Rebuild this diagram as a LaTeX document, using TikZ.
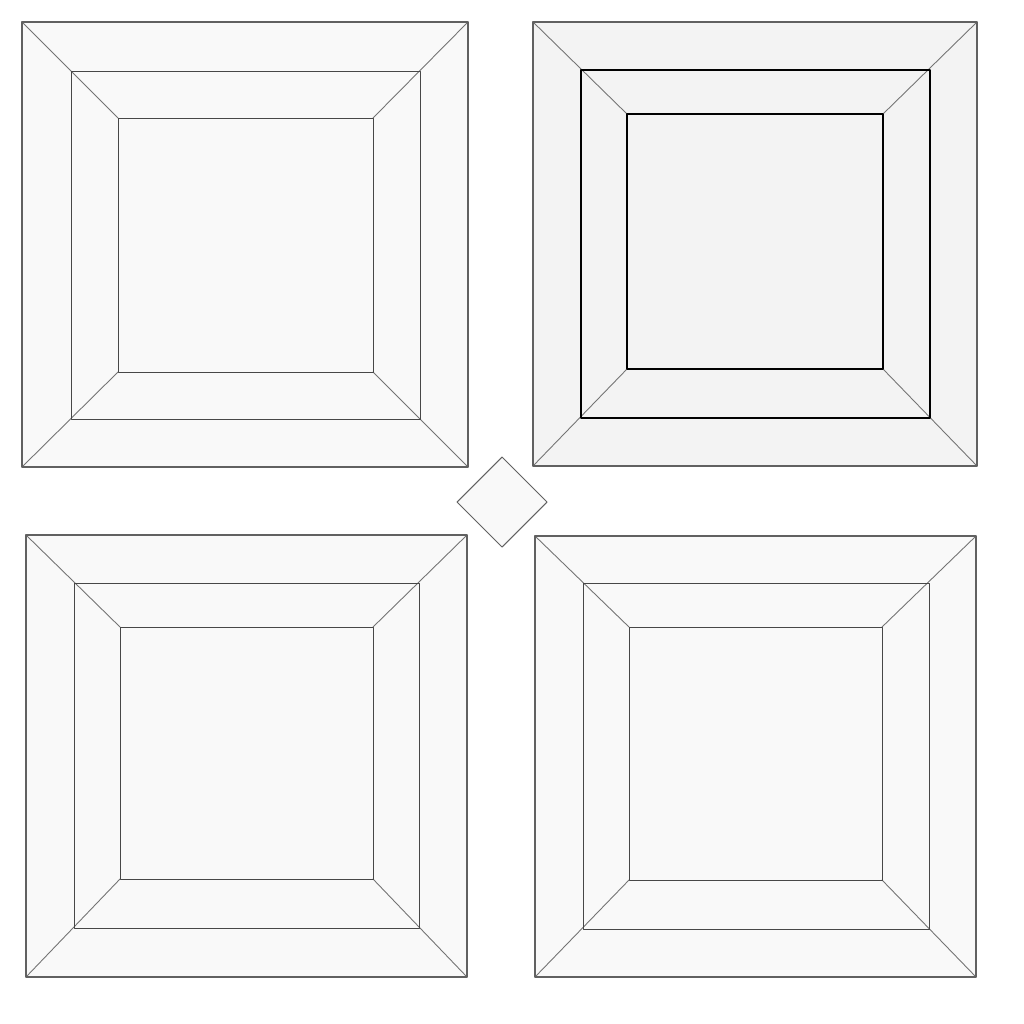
\documentclass[tikz,border=0pt]{standalone}
\usetikzlibrary{calc}
\definecolor{paper}{HTML}{F9F9F9}
\definecolor{paperdark}{HTML}{F3F3F3}
\tikzset{
  outerline/.style={draw=black!62, line width=0.6pt},
  midline/.style={draw=black!72, line width=0.55pt},
  diagline/.style={draw=black!55, line width=0.5pt},
  boldline/.style={draw=black, line width=0.75pt}
}
\begin{document}
\begin{tikzpicture}[x=0.02cm, y=-0.02cm, line join=round, line cap=round]

  % Khung
  \useasboundingbox (0,0) rectangle (1024,1024);

  % Hình vuông trên trái
  \coordinate (A1) at (22,22);   \coordinate (A2) at (468,467);
  \coordinate (B1) at (71,71);   \coordinate (B2) at (420,419);
  \coordinate (C1) at (118,118); \coordinate (C2) at (373,372);
  \fill[paper] (A1) rectangle (A2);
  \draw[diagline] (A1)--(C1) (A2)--(C2) (A1 -| A2)--(C1 -| C2) (A1 |- A2)--(C1 |- C2);
  \draw[outerline] (A1) rectangle (A2);
  \draw[midline] (B1) rectangle (B2);
  \draw[midline] (C1) rectangle (C2);

  % Hình vuông trên phải
  \coordinate (D1) at (533,22);  \coordinate (D2) at (977,466);
  \coordinate (E1) at (581,70);  \coordinate (E2) at (930,418);
  \coordinate (F1) at (627,114); \coordinate (F2) at (883,369);
  \fill[paperdark] (D1) rectangle (D2);
  \draw[diagline] (D1)--(F1) (D2)--(F2) (D1 -| D2)--(F1 -| F2) (D1 |- D2)--(F1 |- F2);
  \draw[outerline] (D1) rectangle (D2);
  \draw[boldline] (E1) rectangle (E2);
  \draw[boldline] (F1) rectangle (F2);

  % Hình vuông dưới trái
  \coordinate (G1) at (26,535);  \coordinate (G2) at (467,977);
  \coordinate (H1) at (74,583);  \coordinate (H2) at (419,928);
  \coordinate (K1) at (120,627); \coordinate (K2) at (373,879);
  \fill[paper] (G1) rectangle (G2);
  \draw[diagline] (G1)--(K1) (G2)--(K2) (G1 -| G2)--(K1 -| K2) (G1 |- G2)--(K1 |- K2);
  \draw[outerline] (G1) rectangle (G2);
  \draw[midline] (H1) rectangle (H2);
  \draw[midline] (K1) rectangle (K2);

  % Hình vuông dưới phải
  \coordinate (M1) at (535,536); \coordinate (M2) at (976,977);
  \coordinate (N1) at (583,583); \coordinate (N2) at (929,929);
  \coordinate (P1) at (629,627); \coordinate (P2) at (882,880);
  \fill[paper] (M1) rectangle (M2);
  \draw[diagline] (M1)--(P1) (M2)--(P2) (M1 -| M2)--(P1 -| P2) (M1 |- M2)--(P1 |- P2);
  \draw[outerline] (M1) rectangle (M2);
  \draw[midline] (N1) rectangle (N2);
  \draw[midline] (P1) rectangle (P2);

  % Hình thoi ở giữa
  \draw[outerline, fill=paper] (502,457)--(547,502)--(502,547)--(457,502)--cycle;

\end{tikzpicture}
\end{document}
